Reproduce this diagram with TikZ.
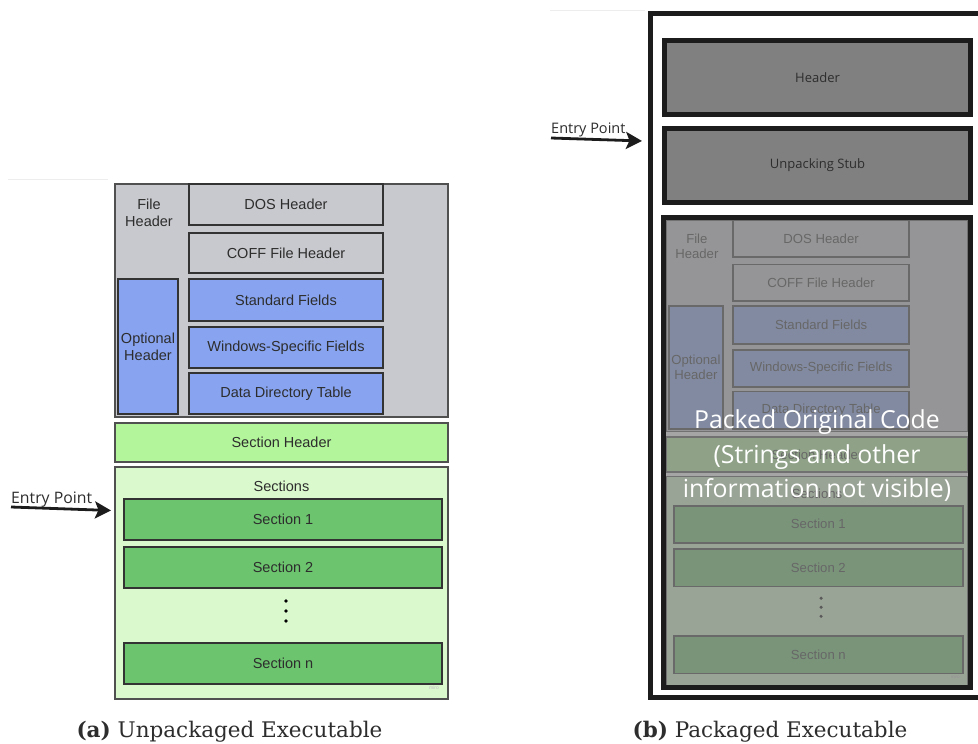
\documentclass[tikz,border=0pt]{standalone}
\usepackage{fontspec}
\usetikzlibrary{arrows.meta}
\newfontfamily\lblfont{Liberation Sans}
\newfontfamily\osfont{Open Sans}
\newfontfamily\capfont{DejaVu Serif}
\definecolor{fhgray}{HTML}{C8C9CE}
\definecolor{ohblue}{HTML}{88A4F0}
\definecolor{shgreen}{HTML}{B3F59B}
\definecolor{secbg}{HTML}{DAF9CD}
\definecolor{secgreen}{HTML}{6CC46E}
\definecolor{boxline}{HTML}{333333}
\definecolor{outline}{HTML}{505050}
\definecolor{txtdark}{HTML}{2D2D2D}
\definecolor{frameblack}{HTML}{1C1C1C}
\definecolor{stubgray}{HTML}{808080}
\tikzset{
  pebox/.style 2 args={draw=boxline, line width=1.8pt, minimum width=#1pt, minimum height=#2pt,
    inner sep=0pt, outer sep=0pt, font=\lblfont\fontsize{14.5}{17}\selectfont, text=txtdark, align=center},
  peouter/.style 2 args={draw=outline, line width=1.5pt, minimum width=#1pt, minimum height=#2pt,
    inner sep=0pt, outer sep=0pt},
  pelabel/.style={font=\lblfont\fontsize{14.5}{17}\selectfont, text=txtdark, align=center, inner sep=0pt},
  dotnode/.style={circle, fill=black, minimum size=3.8pt, inner sep=0pt},
  thickbox/.style={draw=frameblack, line width=5pt, fill=stubgray, minimum width=306pt, minimum height=74pt,
    inner sep=0pt, outer sep=0pt, font=\osfont\fontsize{13}{15}\selectfont, text=txtdark},
  entrylbl/.style={font=\osfont\fontsize{15.8}{17}\selectfont, text=txtdark, inner sep=0pt, anchor=base west},
  entryarrow/.style={draw=frameblack, line width=2.8pt, -{Stealth[length=16pt,width=17pt,inset=3.5pt]}},
  packedtxt/.style={font=\osfont\fontsize{24.8}{30}\selectfont, text=white, inner sep=0pt, anchor=base},
  captxt/.style={font=\capfont\fontsize{21.5}{24}\selectfont, text=txtdark, inner sep=0pt, anchor=base},
}
\newcommand\peunpacked{%
  \node[peouter={333}{233}, fill=fhgray] (fh) at (281.5,300.5) {};
  \node[pelabel] (fhl) at (149,213) {File\\Header};
  \node[pebox={194}{41}, fill=fhgray] (dos) at (286,204.5) {DOS Header};
  \node[pebox={194}{40}, fill=fhgray] (coff) at (286,253) {COFF File Header};
  \node[pebox={60}{135}, fill=ohblue] (opt) at (148,346.5) {Optional\\Header};
  \node[pebox={194}{42}, fill=ohblue] (std) at (286,300) {Standard Fields};
  \node[pebox={194}{41}, fill=ohblue] (win) at (286,347.5) {Windows-Specific Fields};
  \node[pebox={194}{41}, fill=ohblue] (ddt) at (286,393.5) {Data Directory Table};
  \node[peouter={333}{39}, fill=shgreen, font=\lblfont\fontsize{14.5}{17}\selectfont, text=txtdark] (sh) at (281.5,442.5) {Section Header};
  \node[peouter={333}{232}, fill=secbg] (secs) at (281.5,583) {};
  \node[pelabel] (secsl) at (281.5,486) {Sections};
  \node[pebox={318}{41}, fill=secgreen] (s1) at (283,519.5) {Section 1};
  \node[pebox={318}{41}, fill=secgreen] (s2) at (283,567.5) {Section 2};
  \node[dotnode] (d1) at (286,601) {};
  \node[dotnode] (d2) at (286,611) {};
  \node[dotnode] (d3) at (286,621) {};
  \node[pebox={318}{41}, fill=secgreen] (sn) at (283,663.5) {Section n};
  \node[font=\lblfont\fontsize{5}{6}\selectfont, text=black!25, inner sep=0pt] (miro) at (434,688) {miro};
}
\begin{document}
\begin{tikzpicture}[x=1pt,y=-1pt]
\useasboundingbox (0,0) rectangle (978,744);
\fill[white] (0,0) rectangle (978,744);
% faint screenshot edges
\draw[black!7, line width=0.8pt] (8,179) -- (108,179);
\draw[black!7, line width=0.8pt] (550,10) -- (645,10);

% ---------- (a) unpacked ----------
\peunpacked
\node[entrylbl] (ep1) at (11,503) {Entry Point};
\coordinate (ep1s) at (11,507);
\coordinate (ep1e) at (111,510.5);
\draw[entryarrow] (ep1s) -- (ep1e);

% ---------- (b) packed ----------
\draw[frameblack, line width=5pt] (990,13.5) -- (650.5,13.5) -- (650.5,697.5) -- (990,697.5);
\node[thickbox] (hdr) at (817.5,77.5) {Header};
\node[thickbox] (stub) at (817.5,165) {Unpacking Stub};
\begin{scope}[name prefix=pk-]
  \begin{scope}
    \clip (666,220) rectangle (968,685);
    \begin{scope}[shift={(561.7,53.1)}, scale=0.907, transform shape]
      \peunpacked
    \end{scope}
    \fill[stubgray, opacity=0.7] (666,220) rectangle (968,685);
  \end{scope}
\end{scope}
\node[draw=frameblack, line width=5pt, minimum width=307pt, minimum height=470pt, inner sep=0pt, outer sep=0pt] (packed) at (817,452.5) {};
\node[packedtxt] (pk1) at (817,428) {Packed Original Code};
\node[packedtxt] (pk2) at (817,463) {(Strings and other};
\node[packedtxt] (pk3) at (817,497) {information not visible)};
\node[entrylbl, font=\osfont\fontsize{14.5}{16}\selectfont] (ep2) at (551,133) {Entry Point};
\coordinate (ep2s) at (551,138);
\coordinate (ep2e) at (642,141);
\draw[entryarrow] (ep2s) -- (ep2e);

% ---------- captions ----------
\node[captxt] (capa) at (229.5,737) {\textbf{(a)} Unpackaged Executable};
\node[captxt] (capb) at (770,737) {\textbf{(b)} Packaged Executable};
\end{tikzpicture}
\end{document}
